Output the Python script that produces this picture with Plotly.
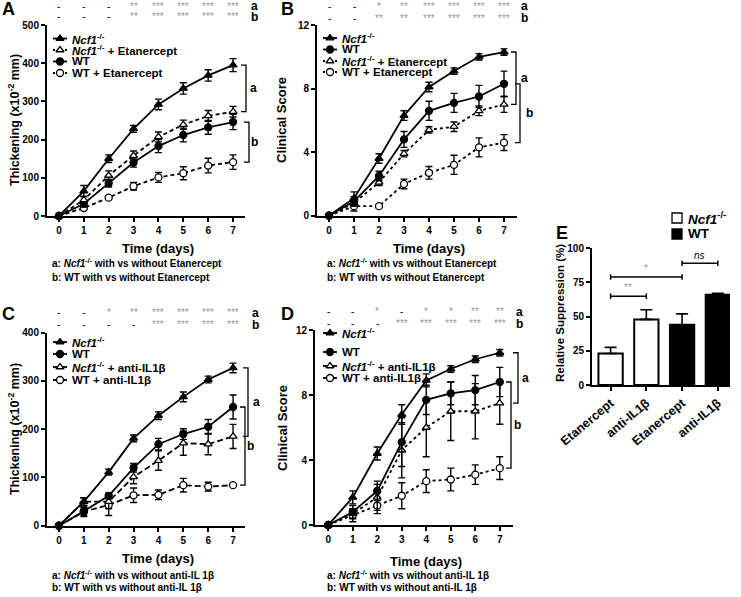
import plotly.graph_objects as go

W, H = 741, 597
FONT = "Liberation Sans, Arial, sans-serif"

days = [0, 1, 2, 3, 4, 5, 6, 7]

# ---------- Panel A : Thickening, Etanercept ----------
a_ncf1 = [0, 65, 150, 228, 292, 334, 368, 395]
a_ncf1_err = [0, 15, 10, 9, 14, 15, 15, 17]
a_ncf1_etan = [0, 42, 106, 158, 207, 239, 262, 273]
a_ncf1_etan_err = [0, 10, 12, 12, 13, 12, 14, 14]
a_wt = [0, 32, 86, 140, 183, 212, 232, 246]
a_wt_err = [0, 8, 10, 12, 17, 18, 18, 20]
a_wt_etan = [0, 21, 48, 78, 101, 112, 132, 141]
a_wt_etan_err = [0, 5, 5, 10, 13, 17, 19, 19]
a_sig_a = ["-", "-", "-", "**", "***", "***", "***", "***"]
a_sig_b = ["-", "-", "-", "**", "***", "***", "***", "***"]

# ---------- Panel B : Clinical score, Etanercept ----------
b_ncf1 = [0, 1.1, 3.6, 6.3, 8.1, 9.1, 10.0, 10.3]
b_ncf1_err = [0, 0.4, 0.3, 0.3, 0.3, 0.2, 0.2, 0.2]
b_wt = [0, 0.9, 2.5, 4.8, 6.6, 7.1, 7.5, 8.3]
b_wt_err = [0, 0.3, 0.3, 0.5, 0.6, 0.6, 0.7, 0.8]
b_ncf1_etan = [0, 0.8, 2.1, 3.9, 5.4, 5.6, 6.6, 7.0]
b_ncf1_etan_err = [0, 0.2, 0.2, 0.2, 0.2, 0.3, 0.3, 0.5]
b_wt_etan = [0, 0.6, 0.6, 2.0, 2.7, 3.2, 4.3, 4.6]
b_wt_etan_err = [0, 0.3, 0.1, 0.3, 0.4, 0.6, 0.6, 0.5]
b_sig_a = ["-", "-", "*", "**", "***", "***", "***", "***"]
b_sig_b = ["-", "-", "**", "**", "***", "***", "***", "***"]

# ---------- Panel C : Thickening, anti-IL1b ----------
c_ncf1 = [0, 50, 111, 181, 228, 267, 303, 327]
c_ncf1_err = [0, 8, 6, 7, 8, 10, 7, 10]
c_wt = [0, 30, 62, 120, 169, 190, 205, 246]
c_wt_err = [0, 8, 6, 9, 12, 11, 15, 25]
c_ncf1_il = [0, 50, 50, 101, 135, 171, 169, 185]
c_ncf1_il_err = [0, 8, 15, 14, 20, 25, 22, 25]
c_wt_il = [0, 29, 43, 63, 64, 84, 81, 84]
c_wt_il_err = [0, 10, 22, 15, 10, 14, 9, 2]
c_sig_a = ["-", "-", "*", "**", "***", "***", "***", "***"]
c_sig_b = ["-", "-", "-", "-", "***", "***", "***", "***"]

# ---------- Panel D : Clinical score, anti-IL1b ----------
d_ncf1 = [0, 1.7, 4.4, 6.8, 8.9, 9.6, 10.2, 10.6]
d_ncf1_err = [0, 0.4, 0.4, 0.6, 0.4, 0.2, 0.2, 0.2]
d_wt = [0, 0.8, 2.1, 5.1, 7.7, 8.1, 8.3, 8.8]
d_wt_err = [0, 0.4, 0.6, 1.5, 0.9, 0.7, 0.9, 0.9]
d_ncf1_il = [0, 0.7, 1.7, 4.6, 6.0, 7.0, 7.0, 7.5]
d_ncf1_il_err = [0, 0.3, 0.8, 1.7, 1.8, 1.8, 1.7, 1.3]
d_wt_il = [0, 0.6, 1.2, 1.8, 2.7, 2.8, 3.1, 3.5]
d_wt_il_err = [0, 0.4, 0.5, 0.8, 0.7, 0.7, 0.6, 0.7]
d_sig_a = ["-", "-", "*", "-", "*", "*", "**", "**"]
d_sig_b = ["-", "-", "-", "***", "***", "***", "***", "***"]

# ---------- Panel E : relative suppression ----------
e_labels = ["Etanercept", "anti-IL1β", "Etanercept", "anti-IL1β"]
e_groups = ["Ncf1", "Ncf1", "WT", "WT"]
e_values = [23, 48, 44, 66]
e_err = [4.5, 7, 8, 1]

NCF = "<i>Ncf1</i><sup>-/-</sup>"


def px(x):
    return x / W


def py(y):
    return 1 - y / H


fig = go.Figure()
ann = []
shapes = []


def add_series(xa, ya, y, err, symbol, filled, dash):
    fig.add_trace(go.Scatter(
        x=days, y=y, xaxis=xa, yaxis=ya, mode="lines+markers", showlegend=False,
        line=dict(color="black", width=1.8, dash=dash),
        marker=dict(symbol=symbol, size=7, color="black" if filled else "white",
                    line=dict(color="black", width=1.3)),
        error_y=dict(type="data", array=err, color="black", thickness=1.4, width=3.5),
        cliponaxis=False,
    ))


DASH = "4px,3px"
DOT = "3px,3px"
LDASH = "6px,3px"

add_series("x", "y", a_wt_etan, a_wt_etan_err, "circle", False, DASH)
add_series("x", "y", a_wt, a_wt_err, "circle", True, "solid")
add_series("x", "y", a_ncf1_etan, a_ncf1_etan_err, "triangle-up", False, DASH)
add_series("x", "y", a_ncf1, a_ncf1_err, "triangle-up", True, "solid")

add_series("x2", "y2", b_wt_etan, b_wt_etan_err, "circle", False, DOT)
add_series("x2", "y2", b_ncf1_etan, b_ncf1_etan_err, "triangle-up", False, DOT)
add_series("x2", "y2", b_wt, b_wt_err, "circle", True, "solid")
add_series("x2", "y2", b_ncf1, b_ncf1_err, "triangle-up", True, "solid")

add_series("x3", "y3", c_wt_il, c_wt_il_err, "circle", False, LDASH)
add_series("x3", "y3", c_ncf1_il, c_ncf1_il_err, "triangle-up", False, LDASH)
add_series("x3", "y3", c_wt, c_wt_err, "circle", True, "solid")
add_series("x3", "y3", c_ncf1, c_ncf1_err, "triangle-up", True, "solid")

add_series("x4", "y4", d_wt_il, d_wt_il_err, "circle", False, DOT)
add_series("x4", "y4", d_ncf1_il, d_ncf1_il_err, "triangle-up", False, DOT)
add_series("x4", "y4", d_wt, d_wt_err, "circle", True, "solid")
add_series("x4", "y4", d_ncf1, d_ncf1_err, "triangle-up", True, "solid")

# Panel E bars
fig.add_trace(go.Bar(
    x=list(range(len(e_values))), y=e_values, xaxis="x5", yaxis="y5", width=0.68,
    marker=dict(color=["white" if g == "Ncf1" else "black" for g in e_groups],
                line=dict(color="black", width=2)),
    error_y=dict(type="data", array=e_err, symmetric=False, arrayminus=[0] * 4,
                 color="black", thickness=1.6, width=6),
    showlegend=False,
))

# ---------- axes ----------
tickfont = dict(family=FONT, size=10, color="black", weight="bold")


def ax(domain, rng, **kw):
    d = dict(domain=domain, range=rng, showline=True, linecolor="black", linewidth=2,
             ticks="outside", ticklen=4, tickwidth=2, tickcolor="black", automargin=False,
             showgrid=False, zeroline=False, tickfont=tickfont, fixedrange=True)
    d.update(kw)
    return d


x_dom_AC = [px(47), px(245)]
x_dom_B = [px(317), px(517)]
x_dom_D = [px(315), px(513)]

layout = dict(
    width=W, height=H, margin=dict(l=0, r=0, t=0, b=0, pad=0, autoexpand=False),
    paper_bgcolor="white", plot_bgcolor="rgba(0,0,0,0)", showlegend=False,
    xaxis=ax(x_dom_AC, [-0.48, 7.48], anchor="y", tickvals=days),
    yaxis=ax([py(216), py(25)], [0, 500], anchor="x", tickvals=[0, 100, 200, 300, 400, 500]),
    xaxis2=ax(x_dom_B, [-0.48, 7.52], anchor="y2", tickvals=days),
    yaxis2=ax([py(215.7), py(25)], [0, 12], anchor="x2", tickvals=[0, 4, 8, 12]),
    xaxis3=ax(x_dom_AC, [-0.48, 7.48], anchor="y3", tickvals=days),
    yaxis3=ax([py(525.7), py(332.7)], [0, 400], anchor="x3", tickvals=[0, 100, 200, 300, 400]),
    xaxis4=ax(x_dom_D, [-0.54, 7.54], anchor="y4", tickvals=days),
    yaxis4=ax([py(525), py(330)], [0, 12], anchor="x4", tickvals=[0, 4, 8, 12]),
    xaxis5=ax([px(592), px(730)], [-0.52, 3.34], anchor="y5", tickvals=[0, 1, 2, 3],
              ticktext=e_labels, tickangle=-40,
              tickfont=dict(family=FONT, size=12.5, color="black", weight="bold")),
    yaxis5=ax([py(385), py(248.3)], [0, 100], anchor="x5", tickvals=[0, 25, 50, 75, 100]),
    # overlay pixel axes for legend keys
    xaxis6=dict(domain=[0, 1], range=[0, W], visible=False, anchor="y6", fixedrange=True,
                automargin=False),
    yaxis6=dict(domain=[0, 1], range=[H, 0], visible=False, anchor="x6", fixedrange=True,
                automargin=False),
)


def text(x, y, t, size=12, bold=True, color="black", xanchor="center", angle=0, italic=False):
    ann.append(dict(x=px(x), y=py(y), xref="paper", yref="paper", text=t, showarrow=False,
                    xanchor=xanchor, yanchor="middle", textangle=angle,
                    font=dict(family=FONT, size=size, color=color,
                              weight="bold" if bold else "normal",
                              style="italic" if italic else "normal")))


# panel letters
text(8, 9, "A", 18)
text(287, 9.5, "B", 18)
text(8, 313.5, "C", 18)
text(287.5, 313.5, "D", 18)
text(562, 233, "E", 18)

# axis titles
text(14, 120, "Thickening (x10<sup>-2</sup> mm)", 12.5, angle=-90)
text(282, 120, "Clinical Score", 13, angle=-90)
text(14, 429, "Thickening (x10<sup>-2</sup> mm)", 12.5, angle=-90)
text(282, 428, "Clinical Score", 13, angle=-90)
text(560, 313, "Relative Suppression (%)", 11.5, angle=-90)
text(158, 248, "Time (days)", 13)
text(429, 248, "Time (days)", 13)
text(158, 558, "Time (days)", 13)
text(426, 561, "Time (days)", 13)

# footnotes
text(50, 263, "a: " + NCF + " with vs without Etanercept", 10, xanchor="left")
text(50, 277, "b: WT with vs without Etanercept", 10, xanchor="left")
text(325, 263, "a: " + NCF + " with vs without Etanercept", 10, xanchor="left")
text(325, 277, "b: WT with vs without Etanercept", 10, xanchor="left")
text(50, 575, "a: " + NCF + " with vs without anti-IL 1β", 10, xanchor="left")
text(50, 587, "b: WT with vs without anti-IL 1β", 10, xanchor="left")
text(325, 575, "a: " + NCF + " with vs without anti-IL 1β", 10, xanchor="left")
text(325, 587, "b: WT with vs without anti-IL 1β", 10, xanchor="left")


# significance rows
def sig_rows(xa, row_a, row_b, ya, yb, lab_x):
    for d, sa, sb in zip(days, row_a, row_b):
        for s, yy in ((sa, ya), (sb, yb)):
            ann.append(dict(x=d, xref=xa, y=py(yy), yref="paper", text=s, showarrow=False,
                            xanchor="center", yanchor="middle",
                            font=dict(family=FONT, size=10,
                                      color="#999999" if s != "-" else "black")))
    text(lab_x, ya, "a", 12, xanchor="left")
    text(lab_x, yb, "b", 12, xanchor="left")


sig_rows("x", a_sig_a, a_sig_b, 6, 17, 249)
sig_rows("x2", b_sig_a, b_sig_b, 6, 18, 519)
sig_rows("x3", c_sig_a, c_sig_b, 312.5, 324.5, 250)
sig_rows("x4", d_sig_a, d_sig_b, 311.5, 323.5, 514)


# right-hand brackets
def bracket(yref, xpix, y1, y2, label, lab_dx=7):
    x0 = px(xpix - 5)
    x1 = px(xpix)
    shapes.append(dict(type="path", xref="paper", yref=yref,
                       path=f"M {x0},{y1} L {x1},{y1} L {x1},{y2} L {x0},{y2}",
                       line=dict(color="black", width=1.3)))
    ann.append(dict(x=px(xpix + lab_dx), xref="paper", y=(y1 + y2) / 2, yref=yref, text=label,
                    showarrow=False, xanchor="center", yanchor="middle",
                    font=dict(family=FONT, size=12, color="black", weight="bold")))


bracket("y", 246, a_ncf1[-1], a_ncf1_etan[-1], "a", 7)
bracket("y", 249, a_wt[-1], a_wt_etan[-1], "b", 5)
bracket("y2", 516, b_ncf1[-1], b_ncf1_etan[-1], "a", 8)
bracket("y2", 520, b_wt[-1], b_wt_etan[-1], "b", 9)
bracket("y3", 248, c_ncf1[-1], c_ncf1_il[-1], "a", 8)
bracket("y3", 245, c_wt[-1], c_wt_il[-1], "b", 6)
bracket("y4", 518, d_ncf1[-1], d_ncf1_il[-1], "a", 7)
bracket("y4", 511, d_wt[-1], d_wt_il[-1], "b", 6)


# legends (keys drawn on overlay pixel axis)
def legend(x0, rows):
    for (yy, name, symbol, filled, dash) in rows:
        fig.add_trace(go.Scatter(x=[x0, x0 + 14], y=[yy, yy], xaxis="x6", yaxis="y6",
                                 mode="lines", line=dict(color="black", width=1.8, dash=dash),
                                 showlegend=False, hoverinfo="skip"))
        fig.add_trace(go.Scatter(x=[x0 + 7], y=[yy], xaxis="x6", yaxis="y6", mode="markers",
                                 marker=dict(symbol=symbol, size=7,
                                             color="black" if filled else "white",
                                             line=dict(color="black", width=1.3)),
                                 showlegend=False, hoverinfo="skip"))
        text(x0 + 17, yy, name, 11.5, xanchor="left")


legend(53, [(38.5, NCF, "triangle-up", True, "solid"),
            (50, NCF + " + Etanercept", "triangle-up", False, "2px,2px"),
            (61.5, "WT", "circle", True, "solid"),
            (73, "WT + Etanercept", "circle", False, "2px,2px")])
legend(323, [(38, NCF, "triangle-up", True, "solid"),
             (49.5, "WT", "circle", True, "solid"),
             (61, NCF + " + Etanercept", "triangle-up", False, "2px,2px"),
             (72, "WT + Etanercept", "circle", False, "2px,2px")])
legend(53, [(342, NCF, "triangle-up", True, "solid"),
            (354, "WT", "circle", True, "solid"),
            (367, NCF + " + anti-IL1β", "triangle-up", False, "solid"),
            (380, "WT + anti-IL1β", "circle", False, "solid")])
legend(323, [(333, NCF, "triangle-up", True, "solid"),
             (352, "WT", "circle", True, "solid"),
             (366, NCF + " + anti-IL1β", "triangle-up", False, "solid"),
             (378, "WT + anti-IL1β", "circle", False, "solid")])

# Panel E legend
for yy, fill, name in ((218, "white", NCF), (234, "black", "WT")):
    shapes.append(dict(type="rect", xref="paper", yref="paper",
                       x0=px(672), x1=px(682), y0=py(yy + 5), y1=py(yy - 5),
                       line=dict(color="black", width=1.3), fillcolor=fill))
    text(686, yy, name, 13.5, xanchor="left")


# Panel E comparison brackets
def hbracket(i, j, yv, label, color, italic=False):
    shapes.append(dict(type="line", xref="x5", yref="y5", x0=i, x1=j, y0=yv, y1=yv,
                       line=dict(color="black", width=1.5)))
    for xx in (i, j):
        shapes.append(dict(type="line", xref="x5", yref="y5", x0=xx, x1=xx, y0=yv - 2, y1=yv + 2,
                           line=dict(color="black", width=1.5)))
    ann.append(dict(x=(i + j) / 2, xref="x5", y=yv + 6, yref="y5", text=label, showarrow=False,
                    xanchor="center", yanchor="middle",
                    font=dict(family=FONT, size=10, color=color,
                              style="italic" if italic else "normal")))


hbracket(0, 1, 65, "**", "#999999")
hbracket(0, 2, 79, "*", "#999999")
hbracket(2, 3, 89, "ns", "black", italic=True)

layout["annotations"] = ann
layout["shapes"] = shapes
fig.update_layout(**layout)
fig.write_html("out.html", config={"displayModeBar": False},
               post_script="document.body.style.margin='0px';"
                           "document.body.style.overflow='hidden';")
